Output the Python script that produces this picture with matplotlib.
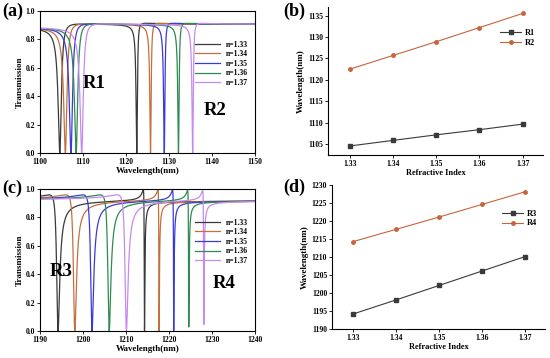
import numpy as np
import matplotlib
matplotlib.use("Agg")
import matplotlib.pyplot as plt

plt.rcParams['font.family'] = ['Liberation Serif', 'DejaVu Serif']
plt.rcParams['font.weight'] = 'bold'

# refractive indices and resonance wavelengths (nm)
n_index = [1.33, 1.34, 1.35, 1.36, 1.37]
n_labels = ["n=1.33", "n=1.34", "n=1.35", "n=1.36", "n=1.37"]
R1 = [1104.6, 1105.9, 1107.2, 1108.4, 1109.7]
R2 = [1122.5, 1125.7, 1128.9, 1132.2, 1135.5]
R3 = [1194.2, 1198.1, 1202.1, 1206.1, 1210.1]
R4 = [1214.3, 1217.7, 1221.1, 1224.6, 1228.1]
# minimum transmission at each R4 dip
R4_depth = [0.0, 0.0, 0.0, 0.03, 0.05]

colors = ["#3a3a3a", "#c4703c", "#3a3ad6", "#2f8a52", "#c58af0"]


def fano(lam, lam0, width, q, depth=0.0):
    # Fano line shape with its zero placed at lam0
    e = (lam - lam0) / width - q
    f = (e + q) ** 2 / (1 + e ** 2)
    return depth + (1 - depth) * f


def step(lam, lam0, width, lo, hi):
    return lo + (hi - lo) * (0.5 + np.arctan((lam - lam0) / width) / np.pi)


def label_style(ax):
    for t in ax.get_xticklabels() + ax.get_yticklabels():
        t.set_fontweight('bold')
    ax.tick_params(labelsize=5.5, length=2, width=0.6, pad=1.5)
    for s in ax.spines.values():
        s.set_linewidth(0.8)


fig = plt.figure(figsize=(5.5, 3.58), dpi=100)

# ---- (a) spectra R1 / R2
ax = fig.add_axes([40/550, 1-153/358, 215/550, 142/358])
lam = np.linspace(1100, 1150, 6000)
for i in range(5):
    base = step(lam, R1[i], 0.45, 0.888, 0.905)
    T = base * fano(lam, R1[i], 0.45, 0.08) * fano(lam, R2[i], 0.18, 0.08)
    ax.plot(lam, T, color=colors[i], lw=0.9, label=n_labels[i])
ax.set_xlim(1100, 1150)
ax.set_ylim(0, 1.0)
ax.set_xticks(np.arange(1100, 1151, 10))
ax.set_yticks(np.arange(0, 1.01, 0.2))
ax.set_xlabel("Wavelength(nm)", fontsize=6.5, fontweight='bold', labelpad=1)
ax.set_ylabel("Transmission", fontsize=6.5, fontweight='bold', labelpad=1)
ax.text(1110, 0.46, "R1", fontsize=13.5, fontweight='bold')
ax.text(1138, 0.27, "R2", fontsize=13.5, fontweight='bold')
ax.legend(loc='upper right', bbox_to_anchor=(1.0, 0.84), frameon=False, fontsize=5.5,
          handlelength=3.2, labelspacing=0.2, handletextpad=0.8)
label_style(ax)
fig.text(2/550, 1-16/358, "(a)", fontsize=13, fontweight='bold')

# ---- (b) R1, R2 vs n
ax = fig.add_axes([328/550, 1-155/358, 215/550, 148/358])
ax.plot(n_index, R1, color="#3a3a3a", marker='s', ms=2.5, lw=0.8, label="R1")
ax.plot(n_index, R2, color="#c8643c", marker='o', ms=2.5, lw=0.8, label="R2")
ax.set_xlim(1.325, 1.3747)
ax.set_ylim(1102.5, 1137)
ax.set_xticks(n_index)
ax.set_yticks(np.arange(1105, 1136, 5))
ax.spines['top'].set_visible(False)
ax.spines['right'].set_visible(False)
ax.set_xlabel("Refractive Index", fontsize=6, fontweight='bold', labelpad=1)
ax.set_ylabel("Wavelength(nm)", fontsize=6.5, fontweight='bold', labelpad=2)
ax.legend(loc='upper right', bbox_to_anchor=(1.0, 0.9), frameon=False, fontsize=6,
          handlelength=2.5, labelspacing=0.2, handletextpad=0.5)
label_style(ax)
fig.text(283/550, 1-16/358, "(b)", fontsize=13, fontweight='bold')

# ---- (c) spectra R3 / R4
ax = fig.add_axes([40/550, 1-331/358, 215/550, 142/358])
lam = np.linspace(1190, 1240, 8000)
for i in range(5):
    T = 0.92 * fano(lam, R3[i], 0.42, -0.2) * fano(lam, R4[i], 0.08, -0.3, R4_depth[i])
    ax.plot(lam, T, color=colors[i], lw=0.9, label=n_labels[i])
ax.set_xlim(1190, 1240)
ax.set_ylim(0, 1.0)
ax.set_xticks(np.arange(1190, 1241, 10))
ax.set_yticks(np.arange(0, 1.01, 0.2))
ax.set_xlabel("Wavelength(nm)", fontsize=6.5, fontweight='bold', labelpad=1)
ax.set_ylabel("Transmission", fontsize=6.5, fontweight='bold', labelpad=1)
ax.text(1192.3, 0.39, "R3", fontsize=13.5, fontweight='bold')
ax.text(1230.2, 0.30, "R4", fontsize=13.5, fontweight='bold')
ax.legend(loc='upper right', bbox_to_anchor=(1.0, 0.84), frameon=False, fontsize=5.5,
          handlelength=3.2, labelspacing=0.2, handletextpad=0.8)
label_style(ax)
fig.text(2/550, 1-193/358, "(c)", fontsize=13, fontweight='bold')

# ---- (d) R3, R4 vs n
ax = fig.add_axes([332/550, 1-329/358, 213/550, 144/358])
ax.plot(n_index, R3, color="#3a3a3a", marker='s', ms=2.5, lw=0.8, label="R3")
ax.plot(n_index, R4, color="#c8643c", marker='o', ms=2.5, lw=0.8, label="R4")
ax.set_xlim(1.325, 1.3747)
ax.set_ylim(1190, 1230)
ax.set_xticks(n_index)
ax.set_yticks(np.arange(1190, 1231, 5))
ax.spines['top'].set_visible(False)
ax.spines['right'].set_visible(False)
ax.set_xlabel("Refractive Index", fontsize=6, fontweight='bold', labelpad=1)
ax.set_ylabel("Wavelength(nm)", fontsize=6.5, fontweight='bold', labelpad=2)
ax.legend(loc='upper right', bbox_to_anchor=(1.0, 0.88), frameon=False, fontsize=6,
          handlelength=2.5, labelspacing=0.2, handletextpad=0.5)
label_style(ax)
fig.text(283/550, 1-192/358, "(d)", fontsize=13, fontweight='bold')

fig.savefig("out.png", dpi=100)
